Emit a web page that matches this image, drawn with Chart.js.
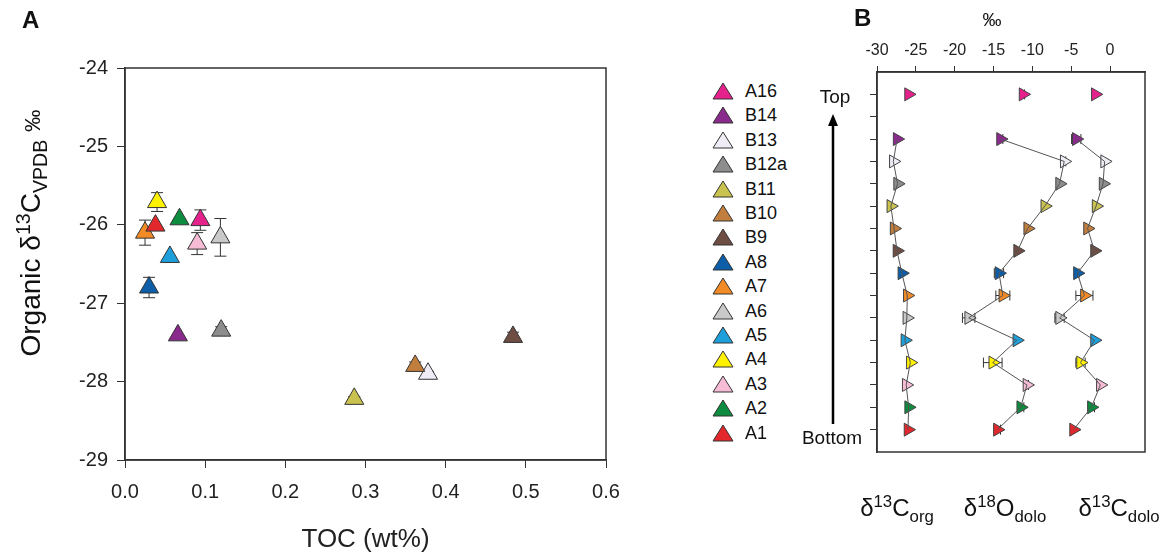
<!DOCTYPE html>
<html lang="en">
<head>
<meta charset="utf-8">
<title>TOC vs organic d13C and isotope profiles</title>
<script src="https://cdn.jsdelivr.net/npm/chart.js@4.4.1/dist/chart.umd.min.js"></script>
<style>
    body { margin: 0; width: 1170px; height: 559px; background: #fff; position: relative; overflow: hidden;
           font-family: "Liberation Sans", Arial, sans-serif; color: #111; }
    .abs { position: absolute; white-space: nowrap; line-height: 1; }
    sup, sub { font-size: 70%; line-height: 0; }
    #cA { position: absolute; left: 0; top: 0; }
    #cB { position: absolute; left: 800px; top: 0; }
    .leg { position: absolute; left: 712px; height: 24px; font-size: 18px; line-height: 24px; }
    .leg svg { position: absolute; left: 0; top: 3px; }
    .leg span { position: absolute; left: 33px; top: 0; }
</style>
</head>
<body>
<canvas id="cA" width="700" height="559"></canvas>
<canvas id="cB" width="370" height="559"></canvas>

<div class="abs" style="left:22px;top:8px;font-size:24px;font-weight:bold;">A</div>
<div class="abs" style="left:854px;top:6px;font-size:24px;font-weight:bold;">B</div>
<div class="abs" id="ytitle" style="left:31px;top:233px;font-size:28px;transform:translate(-50%,-50%) rotate(-90deg);">
    Organic &delta;<sup>13</sup>C<sub>VPDB</sub> <span style="font-size:80%;">&permil;</span></div>
<div class="abs" style="left:992px;top:10px;font-size:19px;transform:translateX(-50%);">&permil;</div>
<div class="abs" style="left:835px;top:96px;font-size:19px;transform:translate(-50%,-50%);">Top</div>
<div class="abs" style="left:832px;top:437px;font-size:19px;transform:translate(-50%,-50%);">Bottom</div>
<svg class="abs" style="left:826px;top:114px;" width="14" height="312">
    <polygon points="7,0 2,12 12,12" fill="#000"/>
    <line x1="7" y1="10" x2="7" y2="310" stroke="#000" stroke-width="2.5"/>
</svg>
<div class="abs" style="left:897px;top:508px;font-size:24px;transform:translate(-50%,-50%);">&delta;<sup>13</sup>C<sub>org</sub></div>
<div class="abs" style="left:1005px;top:508px;font-size:24px;transform:translate(-50%,-50%);">&delta;<sup>18</sup>O<sub>dolo</sub></div>
<div class="abs" style="left:1119px;top:508px;font-size:24px;transform:translate(-50%,-50%);">&delta;<sup>13</sup>C<sub>dolo</sub></div>
<div id="legend"></div>

<script>
    // samples listed top of section first (legend order)
    var samples = ['A16', 'B14', 'B13', 'B12a', 'B11', 'B10', 'B9', 'A8', 'A7', 'A6', 'A5', 'A4', 'A3', 'A2', 'A1'];
    var colors = ['#e5228b', '#8a2a8c', '#efecf5', '#8d8d8d', '#c9c24e', '#c27e3c', '#6e4d42', '#0b5ea7',
                  '#f28b25', '#c9c9c9', '#1d9fdb', '#fff200', '#f6bcd5', '#0d8b3f', '#e2282c'];
    var toc = [0.094, 0.066, 0.378, 0.120, 0.286, 0.362, 0.484, 0.030, 0.025, 0.119, 0.056, 0.040, 0.090, 0.068, 0.038];
    var d13cOrg = [-25.94, -27.41, -27.90, -27.35, -28.22, -27.80, -27.43, -26.80, -26.10, -26.16, -26.41, -25.71, -26.24, -25.93, -26.01];
    var d13cOrgErr = [0.13, 0, 0.03, 0.05, 0.03, 0.05, 0.06, 0.13, 0.16, 0.24, 0, 0.12, 0.14, 0, 0];
    // stratigraphic position (A1 = bottom, no A15)
    var level = [15, 13, 12, 11, 10, 9, 8, 7, 6, 5, 4, 3, 2, 1, 0];
    var d18oDolo = [-11.2, -14.1, -5.9, -6.5, -8.4, -10.6, -11.9, -14.3, -13.8, -18.2, -12.0, -15.1, -10.7, -11.5, -14.5];
    var d18oDoloErr = [0.2, 0.3, 0.2, 0, 0, 0, 0, 0.6, 0.9, 0.8, 0, 1.2, 0.2, 0.4, 0.4];
    var d13cDolo = [-1.9, -4.35, -0.7, -0.9, -1.8, -2.9, -2.0, -4.2, -3.3, -6.5, -2.0, -3.8, -1.25, -2.4, -4.7];
    var d13cDoloErr = [0, 0.6, 0, 0, 0, 0, 0, 0.2, 1.1, 0.6, 0, 0.6, 0, 0.4, 0];
    var tocTicks = [0, 0.1, 0.2, 0.3, 0.4, 0.5, 0.6];
    var orgTicks = [-29, -28, -27, -26, -25, -24];
    var permilTicks = [-30, -25, -20, -15, -10, -5, 0];

    var axisColor = '#333';
    var font = "'Liberation Sans', Arial, sans-serif";

    // legend
    var legend = document.getElementById('legend');
    samples.forEach(function (s, i) {
        var d = document.createElement('div');
        d.className = 'leg';
        d.style.top = (79 + i * 24.4) + 'px';
        d.innerHTML = '<svg width="22" height="18"><polygon points="11,1 1,17 21,17" fill="' + colors[i] +
            '" stroke="#333" stroke-width="1"/></svg><span>' + s + '</span>';
        legend.appendChild(d);
    });

    var errorBars = {
        id: 'errorBars',
        beforeDatasetsDraw: function (chart) {
            var ctx = chart.ctx, xs = chart.scales.x, ys = chart.scales.y;
            ctx.save();
            ctx.strokeStyle = '#333';
            ctx.lineWidth = 1;
            chart.data.datasets.forEach(function (ds) {
                if (!ds.err) return;
                ds.data.forEach(function (p, i) {
                    var e = ds.err[i];
                    if (!e) return;
                    ctx.beginPath();
                    if (ds.errAxis === 'y') {
                        var x = xs.getPixelForValue(p.x);
                        var y1 = ys.getPixelForValue(p.y - e), y2 = ys.getPixelForValue(p.y + e);
                        ctx.moveTo(x, y1); ctx.lineTo(x, y2);
                        ctx.moveTo(x - 6, y1); ctx.lineTo(x + 6, y1);
                        ctx.moveTo(x - 6, y2); ctx.lineTo(x + 6, y2);
                    } else {
                        var y = ys.getPixelForValue(p.y);
                        var x1 = xs.getPixelForValue(p.x - e), x2 = xs.getPixelForValue(p.x + e);
                        ctx.moveTo(x1, y); ctx.lineTo(x2, y);
                        ctx.moveTo(x1, y - 5); ctx.lineTo(x1, y + 5);
                        ctx.moveTo(x2, y - 5); ctx.lineTo(x2, y + 5);
                    }
                    ctx.stroke();
                });
            });
            ctx.restore();
        }
    };

    var frame = {
        id: 'frame',
        beforeDatasetsDraw: function (chart) {
            var a = chart.chartArea, ctx = chart.ctx;
            ctx.save();
            ctx.strokeStyle = axisColor;
            ctx.lineWidth = 1.5;
            ctx.strokeRect(a.left, a.top, a.right - a.left, a.bottom - a.top);
            ctx.restore();
        }
    };

    function fixedTicks(list) {
        return function (scale) {
            scale.ticks = list.map(function (v) { return {value: v}; });
        };
    }

    // ---- panel A ----
    var ptsA = toc.map(function (t, i) { return {x: t, y: d13cOrg[i]}; });
    new Chart(document.getElementById('cA'), {
        type: 'scatter',
        data: {
            datasets: [{
                data: ptsA,
                err: d13cOrgErr,
                errAxis: 'y',
                pointStyle: 'triangle',
                pointRadius: 11,
                pointHoverRadius: 11,
                pointBackgroundColor: colors,
                pointBorderColor: '#333',
                pointBorderWidth: 1
            }]
        },
        options: {
            animation: false,
            responsive: false,
            events: [],
            layout: {padding: {left: 0, top: 68, right: 94, bottom: 0}},
            plugins: {legend: {display: false}, tooltip: {enabled: false}},
            scales: {
                x: {
                    type: 'linear', min: 0, max: 0.6,
                    afterBuildTicks: fixedTicks(tocTicks),
                    afterFit: function (s) { s.height = 99; },
                    grid: {drawOnChartArea: false, tickLength: 8, tickColor: axisColor},
                    border: {color: axisColor, width: 1.5},
                    ticks: {
                        padding: 12, color: '#222', font: {family: font, size: 20},
                        callback: function (v) { return Number(v).toFixed(1); }
                    },
                    title: {display: true, text: 'TOC (wt%)', color: '#222', font: {family: font, size: 26}}
                },
                y: {
                    type: 'linear', min: -29, max: -24,
                    afterBuildTicks: fixedTicks(orgTicks),
                    afterFit: function (s) { s.width = 125; },
                    grid: {drawOnChartArea: false, tickLength: 8, tickColor: axisColor},
                    border: {color: axisColor, width: 1.5},
                    ticks: {padding: 9, color: '#222', font: {family: font, size: 20}}
                }
            }
        },
        plugins: [frame, errorBars]
    });

    // ---- panel B ----
    function column(vals, errs) {
        var pts = vals.map(function (v, i) { return {x: v, y: level[i]}; });
        return [{
            // connecting line, B14 down to A1 (A16 stands alone)
            data: pts.slice(1),
            showLine: true,
            borderColor: '#555',
            borderWidth: 1,
            pointRadius: 0,
            pointHoverRadius: 0
        }, {
            data: pts,
            err: errs,
            errAxis: 'x',
            pointStyle: 'triangle',
            rotation: 90,
            pointRadius: 7.5,
            pointHoverRadius: 7.5,
            pointBackgroundColor: colors,
            pointBorderColor: '#444',
            pointBorderWidth: 1
        }];
    }

    var dsB = [].concat(column(d13cOrg, d13cOrgErr.map(function () { return 0; })),
        column(d18oDolo, d18oDoloErr), column(d13cDolo, d13cDoloErr));

    new Chart(document.getElementById('cB'), {
        type: 'scatter',
        data: {datasets: dsB},
        options: {
            animation: false,
            responsive: false,
            events: [],
            layout: {padding: {left: 0, top: 0, right: 25, bottom: 107}},
            plugins: {legend: {display: false}, tooltip: {enabled: false}},
            scales: {
                x: {
                    type: 'linear', position: 'top', min: -30, max: 4.5,
                    afterBuildTicks: fixedTicks(permilTicks),
                    afterFit: function (s) { s.height = 72; },
                    grid: {drawOnChartArea: false, tickLength: 6, tickColor: axisColor},
                    border: {color: axisColor, width: 1.5},
                    ticks: {padding: 6, color: '#222', font: {family: font, size: 16}}
                },
                y: {
                    type: 'linear', min: -1, max: 16,
                    afterBuildTicks: fixedTicks(level.slice().concat([14])),
                    afterFit: function (s) { s.width = 77; },
                    grid: {drawOnChartArea: false, tickLength: 7, tickColor: axisColor},
                    border: {color: axisColor, width: 1.5},
                    ticks: {display: false}
                }
            }
        },
        plugins: [frame, errorBars]
    });
</script>
</body>
</html>
